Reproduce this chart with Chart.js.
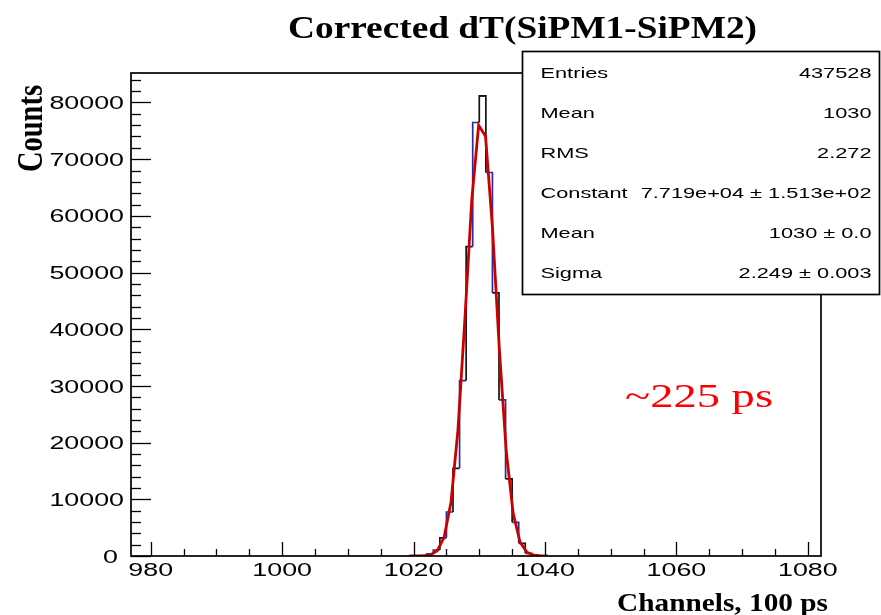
<!DOCTYPE html>
<html>
<head>
<meta charset="utf-8">
<script src="https://cdn.jsdelivr.net/npm/chart.js@4.4.1/dist/chart.umd.min.js"></script>
<style>
  html, body { margin: 0; padding: 0; background: #fff; }
  #wrap { width: 881px; height: 615px; position: relative; }
</style>
</head>
<body>
<div id="wrap"><canvas id="dtChart"></canvas></div>
<script>
// histogram bins (lower edge, 1 channel wide) and their counts
const binLow = [1019, 1020, 1021, 1022, 1023, 1024, 1025, 1026, 1027, 1028, 1029,
                1030, 1031, 1032, 1033, 1034, 1035, 1036, 1037, 1038, 1039];
const binCounts = [0, 10, 50, 350, 1060, 3200, 7760, 15470, 30940, 54590, 76470,
                   81150, 67650, 46400, 27530, 13590, 5940, 2230, 470, 100, 20];

// gaussian fit, as sampled polyline
const fitX = [1019.4, 1020.45, 1021.5, 1022.55, 1023.6, 1024.65, 1025.7, 1026.75, 1027.8, 1028.85, 1029.9,
              1030.95, 1032.0, 1033.05, 1034.1, 1035.15, 1036.2, 1037.25, 1038.3, 1039.35, 1040.4];
const fitY = [1, 5, 37, 204, 912, 3290, 9530, 22210, 41610, 62700, 75980,
              74030, 58010, 36550, 18520, 7550, 2470, 650, 140, 24, 3];

const xTicks = [980, 1000, 1020, 1040, 1060, 1080];
const yTicks = [0, 10000, 20000, 30000, 40000, 50000, 60000, 70000, 80000];
const X_MINOR = 5;
const Y_MINOR = 2000;

const statNames = ['Entries', 'Mean', 'RMS', 'Constant', 'Mean', 'Sigma'];
const statValues = ['437528', '1030', '2.272', '7.719e+04 \u00b1 1.513e+02', '1030 \u00b1 0.0', '2.249 \u00b1 0.003'];

const PEAK_BIN = 1030;
const BLUE = '#2c2c9e';
const BLACK = '#151515';
const SANS = '"Liberation Sans", Arial, sans-serif';
const SERIF = '"Liberation Serif", "Times New Roman", serif';
const SANS_SX = 1.45;

// rising side: one point per bin at its right edge (vertical step first),
// falling side: one point per bin at its left edge (horizontal step first)
const risePts = [{x: binLow[0], y: 0}];
const fallPts = [];
binLow.forEach((lo, i) => {
  if (lo <= PEAK_BIN) risePts.push({x: lo + 1, y: binCounts[i]});
  if (lo >= PEAK_BIN) fallPts.push({x: lo, y: binCounts[i]});
});
fallPts.push({x: binLow[binLow.length - 1] + 1, y: 0});

const binColor = lo => (Math.abs(lo) % 2 === 1 ? BLUE : BLACK);
const fitPts = fitX.map((x, i) => ({x, y: fitY[i]}));

function stretchText(ctx, str, x, y, font, sx, align) {
  ctx.save();
  ctx.font = font;
  ctx.textAlign = align || 'left';
  ctx.textBaseline = 'alphabetic';
  ctx.translate(x, y);
  ctx.scale(sx, 1);
  ctx.fillText(str, 0, 0);
  ctx.restore();
}

function fitText(ctx, str, x, y, font, width) {
  ctx.save();
  ctx.font = font;
  const sx = width / ctx.measureText(str).width;
  ctx.restore();
  stretchText(ctx, str, x, y, font, sx, 'left');
}

function seg(ctx, x0, y0, x1, y1) {
  ctx.beginPath();
  ctx.moveTo(x0, y0);
  ctx.lineTo(x1, y1);
  ctx.stroke();
}

const rootFrame = {
  id: 'rootFrame',
  beforeDraw(chart) {
    const ctx = chart.ctx;
    ctx.save();
    ctx.fillStyle = '#fff';
    ctx.fillRect(0, 0, chart.width, chart.height);
    ctx.restore();
  },
  afterDatasetsDraw(chart) {
    const {ctx, chartArea: a, scales: {x, y}} = chart;
    ctx.save();
    ctx.strokeStyle = '#000';
    ctx.fillStyle = '#000';

    // frame
    ctx.lineWidth = 1.7;
    ctx.strokeRect(a.left, a.top, a.right - a.left, a.bottom - a.top);

    // x ticks (inside the frame)
    ctx.lineWidth = 1.3;
    for (let v = Math.ceil(x.min / X_MINOR) * X_MINOR; v <= x.max; v += X_MINOR) {
      const px = Math.round(x.getPixelForValue(v)) + 0.5;
      const len = xTicks.includes(v) ? 14 : 7;
      seg(ctx, px, a.bottom, px, a.bottom - len);
    }
    // y ticks
    for (let v = 0; v <= y.max; v += Y_MINOR) {
      const py = Math.round(y.getPixelForValue(v)) + 0.5;
      const len = v % 10000 === 0 ? 20 : 10;
      seg(ctx, a.left, py, a.left + len, py);
    }

    // tick labels
    const tickFont = '18.5px ' + SANS;
    xTicks.forEach(v => {
      stretchText(ctx, String(v), x.getPixelForValue(v), a.bottom + 20, tickFont, SANS_SX, 'center');
    });
    yTicks.forEach(v => {
      const py = y.getPixelForValue(v);
      const right = v === 0 ? a.left - 13 : a.left - 7;
      stretchText(ctx, String(v), right, py + 6.6, tickFont, SANS_SX, 'right');
    });

    // axis titles
    fitText(ctx, 'Channels, 100 ps', 617, 611, 'bold 25px ' + SERIF, 211);
    ctx.save();
    ctx.font = 'bold 28px ' + SERIF;
    const cw = ctx.measureText('Counts').width;
    ctx.translate(42, 172);
    ctx.scale(1.3, 1);
    ctx.rotate(-Math.PI / 2);
    ctx.scale(87 / cw, 1);
    ctx.fillText('Counts', 0, 0);
    ctx.restore();

    // title
    fitText(ctx, 'Corrected dT(SiPM1-SiPM2)', 288, 38, 'bold 32px ' + SERIF, 469);

    // stats box
    ctx.fillStyle = '#fff';
    ctx.fillRect(522, 51, 358, 244);
    ctx.lineWidth = 1.7;
    ctx.strokeRect(522.5, 51.5, 357, 243);
    ctx.fillStyle = '#000';
    const statFont = '15px ' + SANS;
    statNames.forEach((name, i) => {
      const by = 77.5 + i * 40;
      stretchText(ctx, name, 540.5, by, statFont, SANS_SX, 'left');
      stretchText(ctx, statValues[i], 871.5, by, statFont, SANS_SX, 'right');
    });

    // resolution note
    ctx.fillStyle = '#ff0000';
    fitText(ctx, '~225 ps', 625, 407, '33px ' + SERIF, 148);
    ctx.restore();
  }
};

new Chart(document.getElementById('dtChart'), {
  type: 'line',
  data: {
    datasets: [
      {
        label: 'gaus fit',
        data: fitPts,
        borderColor: '#c80000',
        borderWidth: 2.8,
        pointRadius: 0,
        fill: false,
        tension: 0
      },
      {
        label: 'dT rising',
        data: risePts,
        stepped: 'after',
        borderWidth: 1.7,
        borderColor: BLACK,
        pointRadius: 0,
        fill: false,
        segment: { borderColor: c => binColor(risePts[c.p1DataIndex].x - 1) }
      },
      {
        label: 'dT falling',
        data: fallPts,
        stepped: 'before',
        borderWidth: 1.7,
        borderColor: BLACK,
        pointRadius: 0,
        fill: false,
        segment: { borderColor: c => binColor(fallPts[c.p0DataIndex].x) }
      }
    ]
  },
  options: {
    responsive: true,
    maintainAspectRatio: false,
    animation: false,
    layout: { padding: { left: 131, top: 73, right: 60, bottom: 59 } },
    plugins: { legend: { display: false }, tooltip: { enabled: false } },
    scales: {
      x: { type: 'linear', min: 977, max: 1082, display: false },
      y: { type: 'linear', min: 0, max: 85200, display: false }
    }
  },
  plugins: [rootFrame]
});
</script>
</body>
</html>
